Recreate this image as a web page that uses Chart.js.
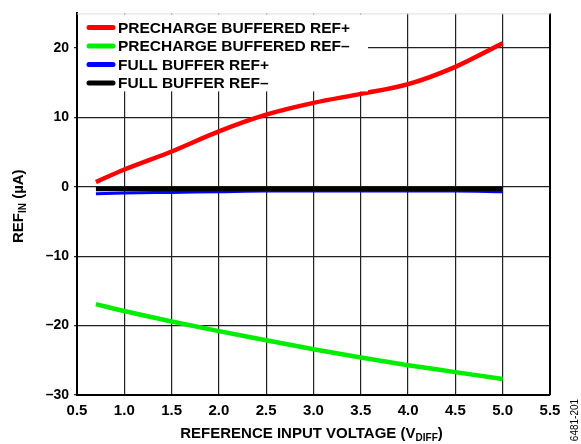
<!DOCTYPE html>
<html>
<head>
<meta charset="utf-8">
<script src="https://cdn.jsdelivr.net/npm/chart.js@4"></script>
<style>
  html, body { margin: 0; padding: 0; background: #fff; }
  #wrap { width: 581px; height: 444px; position: relative; }
</style>
</head>
<body>
<div id="wrap"><canvas id="refChart" width="581" height="444"></canvas></div>
<script>
// reference input voltage points (V)
const voltages = [0.7, 1.0, 1.5, 2.0, 2.5, 3.0, 3.5, 4.0, 4.5, 5.0];
// REF_IN current (uA)
const prechargeRefPlus  = [0.7, 2.5, 5.1, 8.0, 10.4, 12.1, 13.4, 14.8, 17.3, 20.7];
const prechargeRefMinus = [-16.9, -17.9, -19.4, -20.8, -22.1, -23.4, -24.6, -25.7, -26.7, -27.7];
const fullRefPlus       = [-1.0, -0.9, -0.8, -0.7, -0.6, -0.6, -0.6, -0.6, -0.6, -0.7];
const fullRefMinus      = [-0.3, -0.3, -0.3, -0.3, -0.3, -0.3, -0.3, -0.3, -0.3, -0.3];

const seriesNames = ["PRECHARGE BUFFERED REF+", "PRECHARGE BUFFERED REF\u2013", "FULL BUFFER REF+", "FULL BUFFER REF\u2013"];
const seriesColors = ["#ff0000", "#00ee00", "#0000ff", "#000000"];
const xTicks = [0.5, 1.0, 1.5, 2.0, 2.5, 3.0, 3.5, 4.0, 4.5, 5.0, 5.5];
const yTicks = [-30, -20, -10, 0, 10, 20];

const FONT = "'Liberation Sans', Arial, sans-serif";

function points(ys) {
    return voltages.map((v, i) => ({ x: v, y: ys[i] }));
}

function drawParts(ctx, parts, cx, y) {
    let w = 0;
    parts.forEach(p => { ctx.font = p[1]; w += ctx.measureText(p[0]).width; });
    let x = cx - w / 2;
    parts.forEach(p => {
        ctx.font = p[1];
        ctx.fillText(p[0], x, y + p[2]);
        x += ctx.measureText(p[0]).width;
    });
}

// legend box + axis titles with subscripts
const decorations = {
    id: "decorations",
    afterDatasetsDraw(chart) {
        const ctx = chart.ctx;
        const area = chart.chartArea;
        ctx.save();
        ctx.fillStyle = "#fff";
        ctx.fillRect(area.left + 1, area.top + 1, 290, 77);
        ctx.textBaseline = "middle";
        ctx.font = "bold 15.5px " + FONT;
        chart.data.datasets.forEach((ds, i) => {
            const y = area.top + 14 + i * 18.5;
            ctx.strokeStyle = ds.borderColor;
            ctx.lineWidth = 5;
            ctx.lineCap = "round";
            ctx.beginPath();
            ctx.moveTo(area.left + 12, y);
            ctx.lineTo(area.left + 36, y);
            ctx.stroke();
            ctx.fillStyle = "#000";
            ctx.fillText(ds.label, area.left + 41, y + 1);
        });
        ctx.restore();
    },
    afterDraw(chart) {
        const ctx = chart.ctx;
        const area = chart.chartArea;
        const big = "bold 15px " + FONT, small = "bold 10px " + FONT;
        ctx.save();
        ctx.fillStyle = "#000";
        ctx.textBaseline = "alphabetic";

        // x title
        drawParts(ctx, [["REFERENCE INPUT VOLTAGE (V", big, 0], ["DIFF", small, 3], [")", big, 0]],
            (area.left + area.right) / 2 - 2, 438);

        // y title
        ctx.translate(23, (area.top + area.bottom) / 2 + 2);
        ctx.rotate(-Math.PI / 2);
        drawParts(ctx, [["REF", big, 0], ["IN", small, 3], [" (\u00b5A)", big, 0]], 0, 0);
        ctx.restore();

        // figure number
        ctx.save();
        ctx.translate(578, 420);
        ctx.rotate(-Math.PI / 2);
        ctx.font = "10px " + FONT;
        ctx.fillStyle = "#000";
        ctx.textAlign = "center";
        ctx.fillText("6481-201", 0, 0);
        ctx.restore();
    }
};

const ctx = document.getElementById("refChart").getContext("2d");
const refChart = new Chart(ctx, {
    type: "line",
    data: {
        datasets: [
            { label: seriesNames[0], data: points(prechargeRefPlus), borderColor: seriesColors[0], borderWidth: 4.5 },
            { label: seriesNames[1], data: points(prechargeRefMinus), borderColor: seriesColors[1], borderWidth: 4.5 },
            { label: seriesNames[2], data: points(fullRefPlus), borderColor: seriesColors[2], borderWidth: 3, order: 2 },
            { label: seriesNames[3], data: points(fullRefMinus), borderColor: seriesColors[3], borderWidth: 4.5, order: 1 }
        ]
    },
    options: {
        responsive: false,
        animation: false,
        layout: { padding: { top: 11, right: 31, left: 0, bottom: 0 } },
        elements: {
            point: { radius: 0 },
            line: { cubicInterpolationMode: "monotone", fill: false, borderCapStyle: "butt" }
        },
        plugins: { legend: { display: false }, tooltip: { enabled: false } },
        scales: {
            x: {
                type: "linear",
                min: 0.5,
                max: 5.5,
                afterBuildTicks: s => { s.ticks = xTicks.map(v => ({ value: v })); },
                afterFit: s => { s.height = 49; },
                grid: { color: "#222", lineWidth: 1.2, drawTicks: false },
                border: { color: "#000", width: 2 },
                ticks: {
                    padding: 7,
                    color: "#000",
                    font: { family: FONT, size: 15, weight: "bold" },
                    callback: v => v.toFixed(1)
                }
            },
            y: {
                min: -30,
                max: 25,
                afterBuildTicks: s => { s.ticks = yTicks.map(v => ({ value: v })); },
                afterFit: s => { s.width = 77; },
                grid: { color: "#222", lineWidth: 1.2, tickLength: 3 },
                border: { color: "#000", width: 2 },
                ticks: {
                    padding: 5,
                    color: "#000",
                    font: { family: FONT, size: 14, weight: "bold" },
                    callback: v => String(v).replace("-", "\u2013")
                }
            }
        }
    },
    plugins: [decorations, {
        id: "frame",
        afterDraw(chart) {
            const a = chart.chartArea, c = chart.ctx;
            c.save();
            c.strokeStyle = "#000";
            c.lineWidth = 2;
            c.beginPath();
            c.moveTo(a.right, a.top);
            c.lineTo(a.right, a.bottom);
            c.stroke();
            c.strokeStyle = "#ddd";
            c.lineWidth = 1;
            c.beginPath();
            c.moveTo(a.left, a.top + 0.5);
            c.lineTo(a.right, a.top + 0.5);
            c.stroke();
            c.restore();
        }
    }]
});
</script>
</body>
</html>
